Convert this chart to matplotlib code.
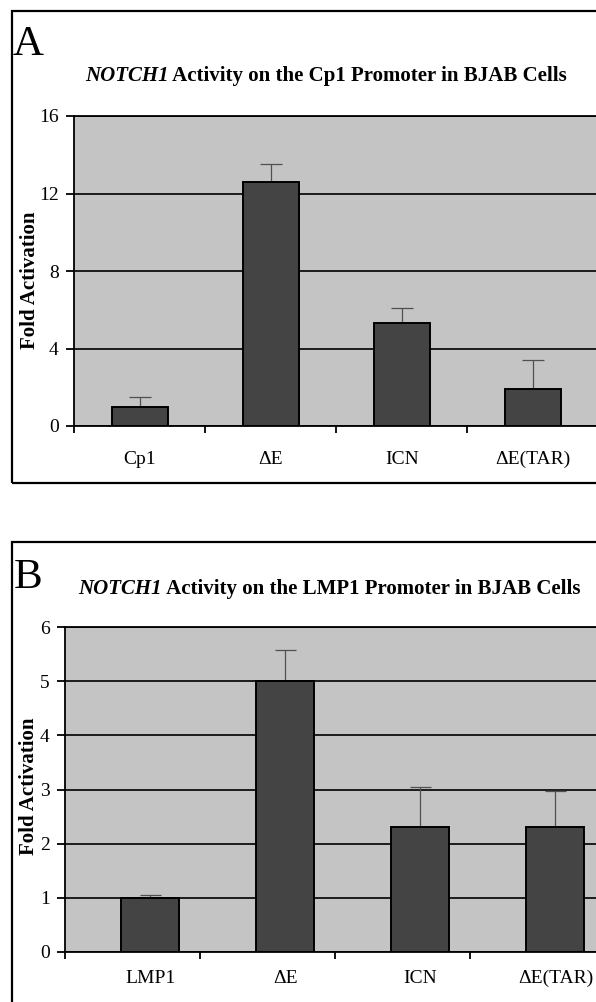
import numpy as np
import matplotlib
matplotlib.use('Agg')
import matplotlib.pyplot as plt
from matplotlib.patches import Rectangle

plt.rcParams['font.family'] = ['Liberation Serif', 'DejaVu Serif']

# panel A data
cats_a = ['Cp1', '\u0394E', 'ICN', '\u0394E(TAR)']
vals_a = [1.0, 12.6, 5.3, 1.9]
errs_a = [0.5, 0.9, 0.8, 1.5]
yticks_a = [0, 4, 8, 12, 16]

# panel B data
cats_b = ['LMP1', '\u0394E', 'ICN', '\u0394E(TAR)']
vals_b = [1.0, 5.0, 2.3, 2.3]
errs_b = [0.06, 0.57, 0.75, 0.67]
yticks_b = [0, 1, 2, 3, 4, 5, 6]

W, H = 596, 1002
BG = '#c4c4c4'
BAR = '#444444'


def fx(px):
    return px / W


def fy(py):
    return 1 - py / H


def panel(fig, rect, cats, vals, errs, yticks, xleft, capw, labpad):
    ax = fig.add_axes(rect)
    ax.set_facecolor(BG)
    x = np.arange(len(cats))
    ax.bar(x, vals, width=0.43, color=BAR, edgecolor='black', linewidth=1.4, zorder=3)
    tops = np.array(vals) + np.array(errs)
    ax.vlines(x, vals, tops, color='#505050', linewidth=0.9, zorder=2)
    ax.hlines(tops, x - capw, x + capw, color='#505050', linewidth=0.9, zorder=2)
    ax.set_ylim(yticks[0], yticks[-1])
    ax.set_yticks(yticks)
    ax.yaxis.grid(True, color='black', linewidth=1.2)
    ax.set_axisbelow(True)
    ax.set_xlim(xleft, xleft + len(cats))
    ax.set_xticks(xleft + np.arange(len(cats) + 1))
    ax.set_xticklabels([])
    ax.set_xticks(x, minor=True)
    ax.set_xticklabels(cats, minor=True)
    ax.tick_params(axis='x', which='minor', length=0, pad=labpad, labelsize=14)
    ax.tick_params(axis='x', which='major', length=5, width=1.3)
    ax.tick_params(axis='y', length=6, width=1.3, labelsize=14, pad=5)
    for s in ax.spines.values():
        s.set_linewidth(1.3)
    return ax


def mixed_title(fig, xc, ybase, ital, rest, size):
    t1 = fig.text(0, fy(ybase), ital, style='italic', weight='bold', size=size, va='baseline')
    t2 = fig.text(0, fy(ybase), rest, weight='bold', size=size, va='baseline')
    r = fig.canvas.get_renderer()
    w1 = t1.get_window_extent(r).width
    w2 = t2.get_window_extent(r).width
    x0 = xc - (w1 + w2) / 2
    t1.set_x(fx(x0))
    t2.set_x(fx(x0 + w1))


fig = plt.figure(figsize=(W / 100, H / 100), dpi=100)
fig.patch.set_facecolor('white')

# frames
fig.add_artist(Rectangle((fx(12), fy(483)), fx(640), fy(11) - fy(483), fill=False,
                         edgecolor='black', linewidth=1.6, transform=fig.transFigure))
fig.add_artist(Rectangle((fx(12), fy(1040)), fx(640), fy(542) - fy(1040), fill=False,
                         edgecolor='black', linewidth=1.6, transform=fig.transFigure))

ax_a = panel(fig, [fx(74), fy(426), fx(524), fy(116) - fy(426)],
             cats_a, vals_a, errs_a, yticks_a, -0.504, 0.085, 18)
ax_b = panel(fig, [fx(65), fy(952), fx(540), fy(627) - fy(952)],
             cats_b, vals_b, errs_b, yticks_b, -0.633, 0.08, 13)

fig.text(fx(13), fy(55), 'A', size=31, ha='left', va='baseline')
fig.text(fx(14), fy(588), 'B', size=31, ha='left', va='baseline')

mixed_title(fig, 326, 81, 'NOTCH1', ' Activity on the Cp1 Promoter in BJAB Cells', 15)
mixed_title(fig, 329, 594, 'NOTCH1', ' Activity on the LMP1 Promoter in BJAB Cells', 15)

fig.text(fx(30), fy(280), 'Fold Activation', rotation=90, weight='bold', size=15,
         ha='center', va='center')
fig.text(fx(29), fy(786), 'Fold Activation', rotation=90, weight='bold', size=15,
         ha='center', va='center')

fig.savefig('out.png', dpi=100)
